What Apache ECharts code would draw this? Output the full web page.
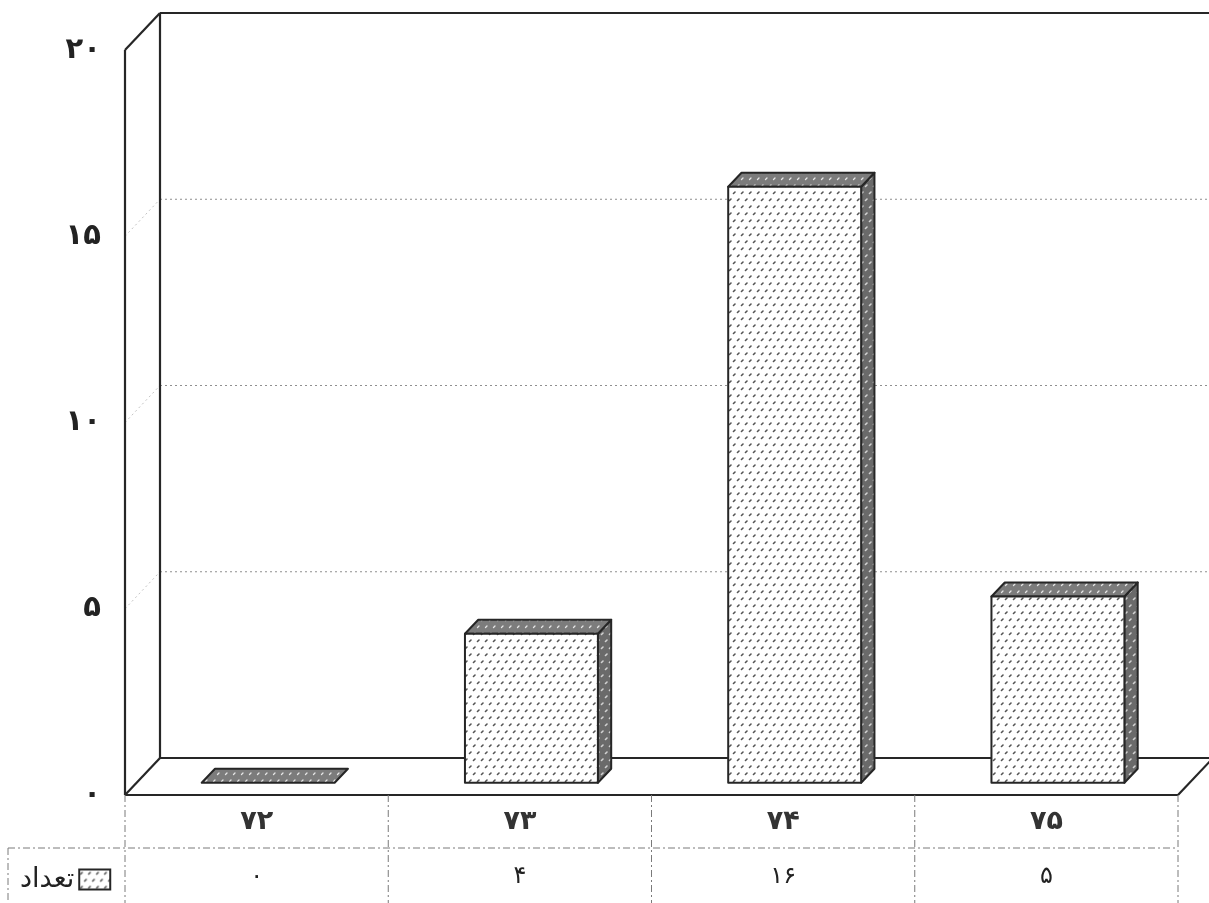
<!DOCTYPE html>
<html>
<head>
<meta charset="utf-8">
<script src="https://cdn.jsdelivr.net/npm/echarts@6/dist/echarts.min.js"></script>
<style>
  html, body { margin: 0; padding: 0; background: #fff; }
  #chart { width: 1209px; height: 903px; }
</style>
</head>
<body>
<div id="chart"></div>
<script>
// ---- data ----
const years = [72, 73, 74, 75];
const counts = [0, 4, 16, 5];
const yTicks = [0, 5, 10, 15, 20];
const seriesName = 'تعداد';

// Persian (Extended Arabic-Indic) digits
const faDigits = '۰۱۲۳۴۵۶۷۸۹';
const toFa = n => String(n).replace(/\d/g, d => faDigits[d]);

// 3D box depth in pixels and bar placement inside the depth
const DEPTH_X = 35, DEPTH_Y = -37;
const BAR_FRONT = 0.33, BAR_BACK = 0.71;
const LINE = '#262626';
const FONT = '"DejaVu Sans", sans-serif';

// stippled fills for the bar faces
function stipple(bg, fg, lw) {
  const c = document.createElement('canvas');
  c.width = 8; c.height = 14;
  const g = c.getContext('2d');
  g.fillStyle = bg; g.fillRect(0, 0, 8, 14);
  g.strokeStyle = fg; g.lineWidth = lw; g.lineCap = 'round';
  g.beginPath();
  g.moveTo(1.5, 4.5); g.lineTo(3, 3);
  g.moveTo(5.5, 11.5); g.lineTo(7, 10);
  g.stroke();
  return { image: c, repeat: 'repeat' };
}
const frontFill = stipple('#ffffff', '#555555', 1.6);
const topFill = stipple('#7c7c7c', '#e6e6e6', 1.3);
const sideFill = stipple('#6a6a6a', '#d2d2d2', 1.6);

const chart = echarts.init(document.getElementById('chart'), null, { renderer: 'canvas' });

function frameItem(params, api) {
  const cs = params.coordSys;
  const x0 = cs.x, x1 = cs.x + cs.width;
  const yAt = v => api.coord([0, v])[1];
  const top = yAt(yTicks[yTicks.length - 1]), bottom = yAt(0);
  const dx = DEPTH_X, dy = DEPTH_Y;
  const solid = { stroke: LINE, lineWidth: 2.2 };
  const line = (a, b, style) => ({ type: 'line', shape: { x1: a[0], y1: a[1], x2: b[0], y2: b[1] }, style });
  const kids = [];
  // back-wall and side-wall gridlines
  yTicks.slice(1, -1).forEach(v => {
    const y = yAt(v);
    kids.push(line([x0 + dx, y + dy], [x1 + dx, y + dy], { stroke: '#8f8f8f', lineWidth: 1, lineDash: [2, 3] }));
    kids.push(line([x0, y], [x0 + dx, y + dy], { stroke: '#c4c4c4', lineWidth: 1, lineDash: [2, 3] }));
  });
  // box edges
  kids.push(line([x0 + dx, top + dy], [x1 + dx, top + dy], solid));
  kids.push(line([x0 + dx, top + dy], [x0 + dx, bottom + dy], solid));
  kids.push(line([x0, top], [x0, bottom], solid));
  kids.push(line([x0, top], [x0 + dx, top + dy], solid));
  kids.push(line([x0, bottom], [x0 + dx, bottom + dy], solid));
  kids.push(line([x0 + dx, bottom + dy], [x1 + dx, bottom + dy], solid));
  kids.push(line([x0, bottom], [x1, bottom], solid));
  kids.push(line([x1, bottom], [x1 + dx, bottom + dy], solid));
  // data table grid
  const dash = { stroke: '#7a7a7a', lineWidth: 1, lineDash: [7, 3, 2, 3] };
  const rowY = bottom + 53, tableEnd = bottom + 115;
  const band = cs.width / years.length;
  for (let k = 0; k <= years.length; k++) {
    const x = x0 + band * k;
    kids.push(line([x, bottom], [x, tableEnd], dash));
  }
  kids.push(line([8, rowY], [x1, rowY], dash));
  kids.push(line([8, rowY], [8, tableEnd], dash));
  return { type: 'group', children: kids };
}

function barItem(params, api) {
  const i = api.value(0), v = api.value(1);
  const base = api.coord([i, 0]), tip = api.coord([i, v]);
  const w = api.size([1, 0])[0] * 0.505;
  const fx = BAR_FRONT * DEPTH_X, fy = BAR_FRONT * DEPTH_Y;
  const d = BAR_BACK - BAR_FRONT;
  const bx = d * DEPTH_X, by = d * DEPTH_Y;
  const L = base[0] - w / 2 + fx, R = base[0] + w / 2 + fx;
  const B = base[1] + fy, T = tip[1] + fy;
  const edge = { stroke: LINE, lineWidth: 2, lineJoin: 'round' };
  const kids = [];
  if (v > 0) {
    kids.push({ type: 'polygon', shape: { points: [[R, T], [R + bx, T + by], [R + bx, B + by], [R, B]] },
      style: Object.assign({ fill: sideFill }, edge) });
  }
  kids.push({ type: 'polygon', shape: { points: [[L, T], [R, T], [R + bx, T + by], [L + bx, T + by]] },
    style: Object.assign({ fill: topFill }, edge) });
  if (v > 0) {
    kids.push({ type: 'rect', shape: { x: L, y: T, width: R - L, height: B - T },
      style: Object.assign({ fill: frontFill }, edge) });
  }
  return { type: 'group', children: kids };
}

function tableValueItem(params, api) {
  const i = api.value(0), v = api.value(1);
  const p = api.coord([i, 0]);
  return {
    type: 'text',
    style: { text: toFa(v), x: p[0], y: p[1] + 82, align: 'center', verticalAlign: 'middle',
      font: '24px ' + FONT, fill: '#222' }
  };
}

chart.setOption({
  animation: false,
  backgroundColor: '#fff',
  grid: { left: 125, right: 31, top: 50, bottom: 108, containLabel: false },
  legend: {
    data: [{ name: seriesName, icon: 'rect', itemStyle: { color: frontFill, borderColor: LINE, borderWidth: 2 } }],
    left: 20, top: 866, align: 'right', itemWidth: 31, itemHeight: 20, padding: 0,
    textStyle: { fontFamily: FONT, fontSize: 27, color: '#222', padding: [0, 0, 0, 0] }
  },
  xAxis: {
    type: 'category',
    data: years.map(toFa),
    axisLine: { show: false }, axisTick: { show: false }, splitLine: { show: false },
    axisLabel: { margin: 13, fontFamily: FONT, fontSize: 27, fontWeight: 'bold', color: '#333' }
  },
  yAxis: {
    type: 'value', min: 0, max: 20, interval: 5,
    axisLine: { show: false }, axisTick: { show: false }, splitLine: { show: false },
    axisLabel: { margin: 24, fontFamily: FONT, fontSize: 29, fontWeight: 'bold', color: '#222', formatter: v => toFa(v) }
  },
  series: [
    { type: 'custom', name: 'frame', renderItem: frameItem, data: [[0, 0]], clip: false, silent: true, z: 1 },
    { type: 'custom', name: seriesName, renderItem: barItem, clip: false, z: 3,
      itemStyle: { color: frontFill },
      data: counts.map((c, i) => [i, c]) },
    { type: 'custom', name: 'tableValues', renderItem: tableValueItem, clip: false, silent: true, z: 3,
      data: counts.map((c, i) => [i, c]) }
  ]
});
</script>
</body>
</html>
